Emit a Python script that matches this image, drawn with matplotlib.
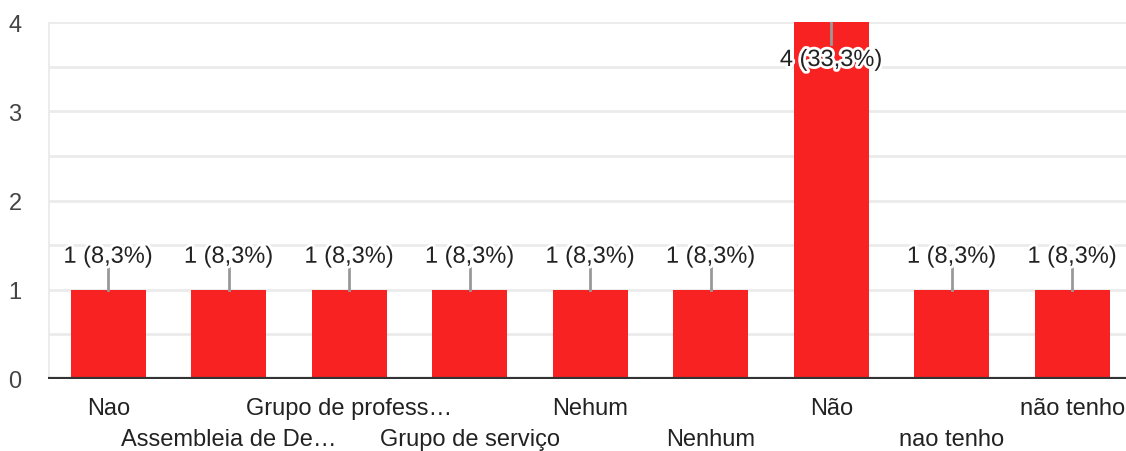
import matplotlib.pyplot as plt
import matplotlib.patheffects as pe
import numpy as np

plt.rcParams['font.family'] = ['Liberation Sans', 'DejaVu Sans']

categories = ["Nao", "Assembleia de De…", "Grupo de profess…", "Grupo de serviço",
              "Nehum", "Nenhum", "Não", "nao tenho", "não tenho"]
counts = [1, 1, 1, 1, 1, 1, 4, 1, 1]
pct_labels = ["8,3%", "8,3%", "8,3%", "8,3%", "8,3%", "8,3%", "33,3%", "8,3%", "8,3%"]

bar_color = "#f82222"
text_color = "#444444"

fig = plt.figure(figsize=(11.26, 4.52), dpi=100)
ax = fig.add_axes([48 / 1126, 72 / 452, 1 - 48 / 1126, 357 / 452])

x = np.arange(len(categories))
ax.bar(x, counts, width=0.62, color=bar_color, zorder=3)

ax.set_xlim(-0.5, 8.446)
ax.set_ylim(0, 4)

# light grid every half step
for y in np.arange(0.5, 4.01, 0.5):
    ax.axhline(y, color="#ebebeb", lw=2, zorder=1)
ax.axvline(-0.5, color="#ebebeb", lw=2, zorder=1)
ax.axhline(0, color="#333333", lw=3, zorder=4)

for sp in ax.spines.values():
    sp.set_visible(False)

ax.set_yticks([0, 1, 2, 3, 4])
ax.tick_params(axis='y', length=0, labelsize=17, labelcolor=text_color, pad=19)
ax.set_xticks([])

# value labels with leader lines
unit = 357 / 4.0
for xi, c, p in zip(x, counts, pct_labels):
    lab = f"{c} ({p})"
    if c >= 4:
        ax.plot([xi, xi], [c, c - 22 / unit], color="#999999", lw=2, zorder=5)
        ty = c - 38 / unit
    else:
        ax.plot([xi, xi], [c, c + 22 / unit], color="#999999", lw=2, zorder=5)
        ty = c + 33 / unit
    ax.text(xi, ty, lab, ha="center", va="center", fontsize=17, color="#222222", zorder=6,
            path_effects=[pe.withStroke(linewidth=4, foreground="white")])

# category labels in two staggered rows
for i, name in enumerate(categories):
    row_y = -29 / unit if i % 2 == 0 else -60 / unit
    ax.text(i, row_y, name, ha="center", va="center", fontsize=17, color="#222222",
            clip_on=False)

fig.savefig("out.png", dpi=100)
